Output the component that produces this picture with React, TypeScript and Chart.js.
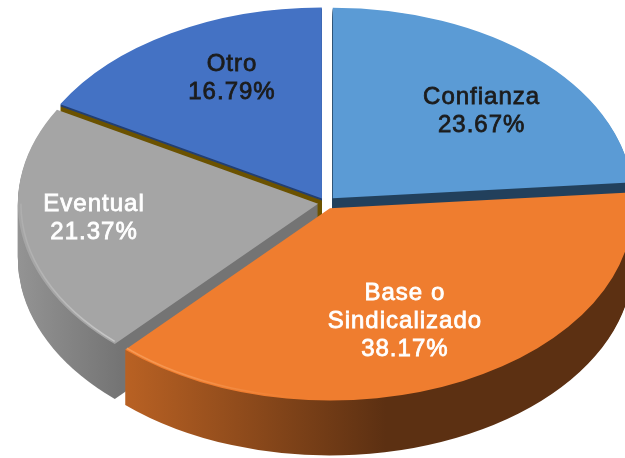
import React, { useEffect, useRef } from "react";
import { Chart, registerables } from "chart.js";

Chart.register(...registerables);

const categories = ["Confianza", "Base o\nSindicalizado", "Eventual", "Otro"];
const shares = [23.67, 38.17, 21.37, 16.79];
const sliceColors = ["#5B9BD5", "#EF7D2F", "#A5A5A5", "#4472C4"];
const labelColors = ["#1c1c1c", "#ffffff", "#ffffff", "#1c1c1c"];
const explode = [10, 9, 8, 8];
const wallLeft = ["#22405C", "#BC6324", "#949494", "#6B5200"];
const wallRight = ["#22405C", "#5C3012", "#747474", "#6B5200"];
const wallSpan = [[-200, 60], [-210, 60], [-310, -205], [-200, 60]];
const wallEdge = [null, null, null, "#233F72"];
const rimColors = [null, "rgba(250,165,100,", "rgba(205,205,205,", null];
const labelFractions = [[0.733, 0.62], [0.568, 0.66], [0.756, 0.48], [0.596, 0.73]];

const RADIUS = 300;
const TILT = 0.635;
const DEPTH = 55;
const FONT_SIZE = 24;
const LINE_H = 28;

const tiltCtx = (ctx: CanvasRenderingContext2D, arc: any, dy = 0) => {
  ctx.translate(0, arc.y + dy);
  ctx.scale(1, TILT);
  ctx.translate(0, -arc.y);
};

// the library's arc grows its radius a little when it is offset; follow it here
const drawnRadius = (arc: any, off: number) =>
  arc.outerRadius + off * (1 - Math.sin(Math.min(Math.PI, arc.circumference)));

const slicePath = (ctx: CanvasRenderingContext2D, arc: any, off: number) => {
  const mid = (arc.startAngle + arc.endAngle) / 2;
  const ox = arc.x + Math.cos(mid) * off;
  const oy = arc.y + Math.sin(mid) * off;
  ctx.beginPath();
  ctx.moveTo(ox, oy);
  ctx.arc(ox, oy, drawnRadius(arc, off), arc.startAngle, arc.endAngle);
  ctx.closePath();
};

const pie3d = {
  id: "pie3d",
  beforeDatasetsDraw(chart: any) {
    const ctx: CanvasRenderingContext2D = chart.ctx;
    const arcs = chart.getDatasetMeta(0).data;
    // back to front: Otro, Confianza, Eventual, Base
    [3, 0, 2, 1].forEach((i) => {
      const arc = arcs[i];
      const grad = ctx.createLinearGradient(arc.x + wallSpan[i][0], 0, arc.x + wallSpan[i][1], 0);
      grad.addColorStop(0, wallLeft[i]);
      grad.addColorStop(1, wallRight[i]);
      for (let dy = DEPTH; dy >= 1; dy--) {
        ctx.save();
        tiltCtx(ctx, arc, dy);
        slicePath(ctx, arc, explode[i]);
        const edge = wallEdge[i];
        ctx.fillStyle = edge && dy <= 2 ? edge : grad;
        ctx.fill();
        ctx.restore();
      }
    });
    ctx.save();
    tiltCtx(ctx, arcs[0]);
  },
  afterDatasetsDraw(chart: any) {
    const ctx: CanvasRenderingContext2D = chart.ctx;
    ctx.restore();
    const arcs = chart.getDatasetMeta(0).data;
    arcs.forEach((arc: any, i: number) => {
      const rim = rimColors[i];
      if (!rim) return;
      const mid = (arc.startAngle + arc.endAngle) / 2;
      const ox = arc.x + Math.cos(mid) * explode[i];
      const oy = arc.y + Math.sin(mid) * explode[i];
      const end = Math.min(arc.endAngle, Math.PI);
      ctx.save();
      tiltCtx(ctx, arc);
      ctx.beginPath();
      ctx.arc(ox, oy, drawnRadius(arc, explode[i]) - 3, arc.startAngle + 0.01, end);
      ctx.restore();
      const g = ctx.createLinearGradient(arc.x - 310, 0, arc.x + 40, 0);
      if (i === 1) {
        g.addColorStop(0, rim + "0.95)");
        g.addColorStop(0.5, rim + "0.55)");
        g.addColorStop(0.8, rim + "0)");
        g.addColorStop(1, rim + "0)");
      } else {
        g.addColorStop(0, rim + "0.2)");
        g.addColorStop(0.3, rim + "0.9)");
        g.addColorStop(1, rim + "0.9)");
      }
      ctx.strokeStyle = g;
      ctx.lineWidth = 1.5;
      ctx.stroke();
    });
    ctx.textAlign = "center";
    ctx.textBaseline = "middle";
    ctx.font = `${FONT_SIZE}px "Liberation Sans", Arial, sans-serif`;
    (ctx as any).letterSpacing = "1px";
    arcs.forEach((arc: any, i: number) => {
      const mid = (arc.startAngle + arc.endAngle) / 2;
      const [fx, fy] = labelFractions[i];
      const ox = arc.x + Math.cos(mid) * explode[i];
      const oy = arc.y + Math.sin(mid) * explode[i] * TILT;
      const x = ox + Math.cos(mid) * RADIUS * fx;
      const y = oy + Math.sin(mid) * RADIUS * TILT * fy;
      const lines = [...categories[i].split("\n"), `${shares[i].toFixed(2)}%`];
      ctx.fillStyle = labelColors[i];
      ctx.strokeStyle = labelColors[i];
      ctx.lineWidth = 0.8;
      lines.forEach((ln, j) => {
        const ly = y + (j - (lines.length - 1) / 2) * LINE_H;
        ctx.fillText(ln, x, ly);
        ctx.strokeText(ln, x, ly);
      });
    });
    (ctx as any).letterSpacing = "0px";
  },
};

export default function App() {
  const ref = useRef<HTMLCanvasElement>(null);
  useEffect(() => {
    document.body.style.margin = "0";
    const chart = new Chart(ref.current!, {
      type: "pie",
      data: {
        labels: categories.map((c) => c.replace("\n", " ")),
        datasets: [
          {
            data: shares,
            backgroundColor: sliceColors,
            borderWidth: 0,
            offset: explode.map((v) => v * 4),
            radius: RADIUS,
          } as any,
        ],
      },
      options: {
        responsive: false,
        animation: false,
        layout: { padding: { left: 27, right: 0, top: 0, bottom: 52 } },
        plugins: { legend: { display: false }, tooltip: { enabled: false } },
      },
      plugins: [pie3d],
    } as any);
    return () => chart.destroy();
  }, []);
  return (
    <div style={{ width: 625, height: 458, overflow: "hidden", background: "#fff" }}>
      <canvas ref={ref} width={625} height={458} style={{ display: "block", filter: "blur(0.6px)" }} />
    </div>
  );
}
